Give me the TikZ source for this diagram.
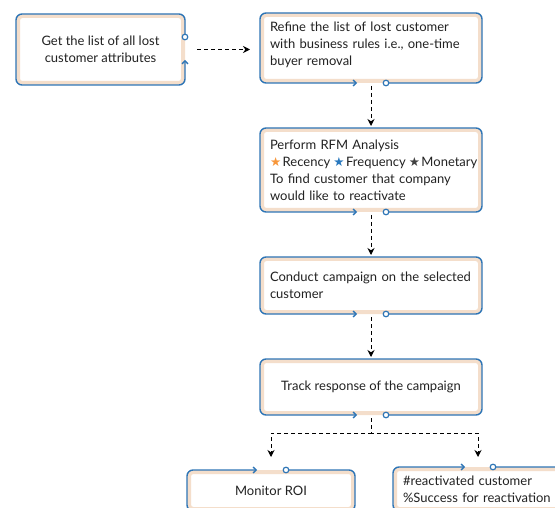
\documentclass[tikz,border=0pt]{standalone}
\usepackage{fontspec}
\setmainfont{Lato}
\newfontfamily\symfont{DejaVu Sans}
\usetikzlibrary{arrows.meta,calc}
\definecolor{bblue}{HTML}{2E75B6}
\definecolor{beige}{HTML}{F4DECB}
\definecolor{txt}{HTML}{222222}
\definecolor{staro}{HTML}{F7963A}
\definecolor{starb}{HTML}{2878BE}
\definecolor{starg}{HTML}{404040}
\newcommand\mystar[1]{{\color{#1}\symfont\fontsize{12.5}{12.5}\selectfont ★}\hspace{1.5pt}}
\begin{document}
\begin{tikzpicture}[x=1pt,y=-1pt,
  flowbox/.style={draw=beige, line width=4pt, fill=white, rounded corners=4pt,
    font=\fontsize{13}{17}\selectfont, text=txt, inner sep=0pt},
  leftbox/.style={flowbox, align=left, inner xsep=8pt},
  bluepath/.style={draw=bblue, line width=1.4pt, rounded corners=6pt,
    -{Straight Barb[length=3pt,width=6pt]}},
  knob/.style={draw=bblue, line width=1.2pt, fill=white},
  conn/.style={draw=black, line width=1pt, dash pattern=on 4pt off 3pt,
    -{Stealth[length=7pt,width=7pt]}}
]
\useasboundingbox (0,0) rectangle (555,508);

\node[flowbox, align=center, minimum width=165pt, minimum height=67pt] (b1) at (100.5,49.5)
  {Get the list of all lost\\customer attributes};
\node[leftbox, text width=202pt, minimum height=66pt] (b2) at (371,48)
  {\mbox{Refine the list of lost customer}\\\mbox{with business rules i.e., one-time}\\buyer removal\rule[-9pt]{0pt}{9pt}};
\node[leftbox, text width=202pt, minimum height=80pt] (b3) at (371,170)
  {Perform RFM Analysis\\\mbox{\mystar{staro}Recency\hspace{3pt}\mystar{starb}Frequency\hspace{3pt}\mystar{starg}Monetary}\\\mbox{To find customer that company}\\would like to reactivate};
\node[leftbox, text width=202pt, minimum height=53pt] (b4) at (371,285.5)
  {\mbox{Conduct campaign on the selected}\\customer};
\node[flowbox, align=center, minimum width=218pt, minimum height=52pt] (b5) at (371,387)
  {Track response of the campaign};
\node[flowbox, align=center, minimum width=164pt, minimum height=37pt] (b6) at (271,490.5)
  {Monitor ROI};
\node[leftbox, text width=150pt, minimum height=40pt] (b7) at (478,489)
  {\mbox{\#reactivated customer}\\\mbox{\%Success for reactivation}};

% blue outlines
\draw[bluepath] (b1.east |- 0,37) -- (b1.north east) -- (b1.north west) -- (b1.south west) -- (b1.south east) -- (b1.east |- 0,60);
\draw[knob] (b1.east |- 0,37) circle (2.8pt);
\foreach \b in {b2,b3,b4,b5}{
  \draw[bluepath] (\b.south -| 386,0) -- (\b.south east) -- (\b.north east) -- (\b.north west) -- (\b.south west) -- (\b.south -| 357,0);
  \draw[knob] (\b.south -| 386,0) circle (2.8pt);
}
\draw[bluepath] (b6.north -| 286,0) -- (b6.north east) -- (b6.south east) -- (b6.south west) -- (b6.north west) -- (b6.north -| 257,0);
\draw[knob] (b6.north -| 286,0) circle (2.8pt);
\draw[bluepath] (b7.north -| 493,0) -- (b7.north east) -- (b7.south east) -- (b7.south west) -- (b7.north west) -- (b7.north -| 465,0);
\draw[knob] (b7.north -| 493,0) circle (2.8pt);

% connectors
\draw[conn] ($(b1.east)+(12,0)$) -- ($(b1.east -| b2.west)+(-10,0)$);
\draw[conn, shorten <=3pt, shorten >=2pt] (b2.south) -- (b3.north);
\draw[conn, shorten <=3pt, shorten >=2pt] (b3.south) -- (b4.north);
\draw[conn, shorten <=3pt, shorten >=2pt] (b4.south) -- (b5.north);
\draw[conn, shorten <=3pt, shorten >=13pt] (b5.south) -- ++(0,18) -| (b6.north);
\draw[conn, shorten <=3pt, shorten >=10pt] (b5.south) -- ++(0,18) -| (b7.north);
\end{tikzpicture}
\end{document}
